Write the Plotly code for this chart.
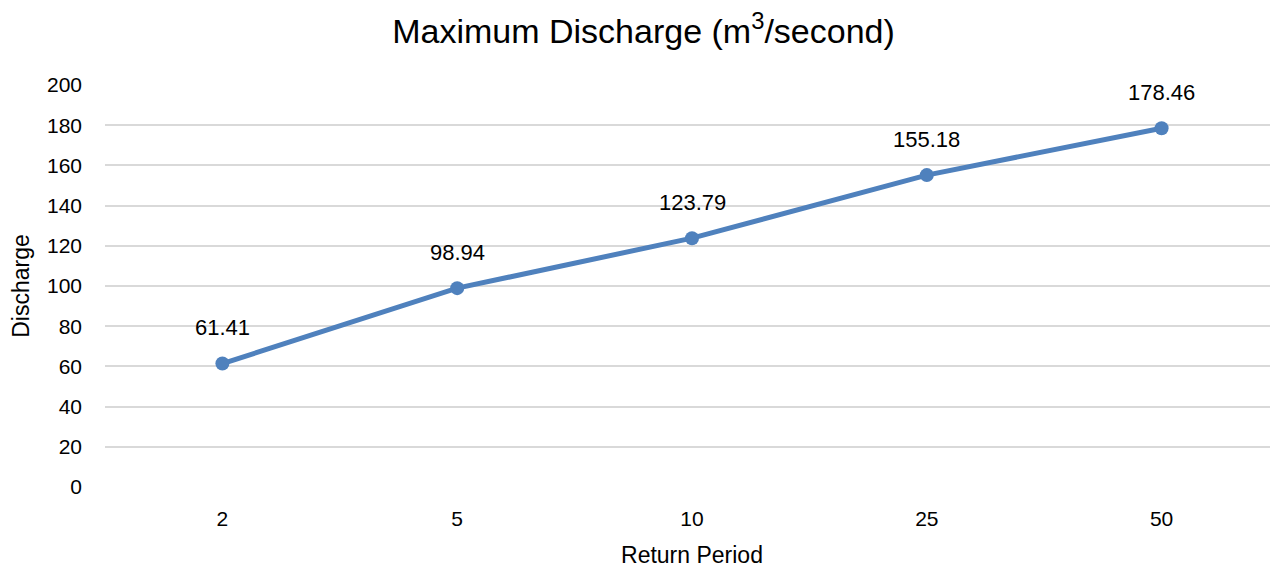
import plotly.graph_objects as go

categories = ["2", "5", "10", "25", "50"]
discharge = [61.41, 98.94, 123.79, 155.18, 178.46]
labels = ["61.41", "98.94", "123.79", "155.18", "178.46"]
y_ticks = [0, 20, 40, 60, 80, 100, 120, 140, 160, 180, 200]

font_family = "Liberation Sans, Arial, sans-serif"
color = "#4F81BD"

fig = go.Figure()
fig.add_trace(go.Scatter(
    x=categories, y=discharge, mode="lines+markers",
    line=dict(color=color, width=5),
    marker=dict(color=color, size=14),
    hoverinfo="x+y", showlegend=False,
))
for i, (v, t) in enumerate(zip(discharge, labels)):
    fig.add_annotation(x=i, y=v, text=t, showarrow=False, yshift=36,
                       font=dict(family=font_family, size=22, color="#000000"))

# page body adds an 8px offset; figure size/margins compensate
fig.update_layout(
    width=1271, height=560,
    paper_bgcolor="white", plot_bgcolor="white",
    margin=dict(l=97, r=0, t=77, b=81),
    title=dict(text="Maximum Discharge (m<sup>3</sup>/second)", x=0.5, xanchor="center",
               y=1 - 23 / 560, yanchor="middle",
               font=dict(family=font_family, size=34, color="#000000")),
    font=dict(family=font_family, color="#000000"),
)
fig.update_xaxes(
    type="category", range=[-0.5, 4.5], showgrid=False, showline=False, zeroline=False,
    tickfont=dict(size=21, color="#000000"), ticklabelstandoff=17, automargin=True,
    title=dict(text="Return Period", font=dict(size=23, color="#000000"), standoff=17),
)
fig.update_yaxes(
    range=[0, 200], tickvals=y_ticks, showgrid=True, gridcolor="#d9d9d9", gridwidth=1.5,
    zeroline=False, showline=False, automargin=True,
    tickfont=dict(size=21, color="#000000"), ticklabelstandoff=22,
    title=dict(text="Discharge", font=dict(size=23, color="#000000"), standoff=12),
)
fig.write_html("out.html")
